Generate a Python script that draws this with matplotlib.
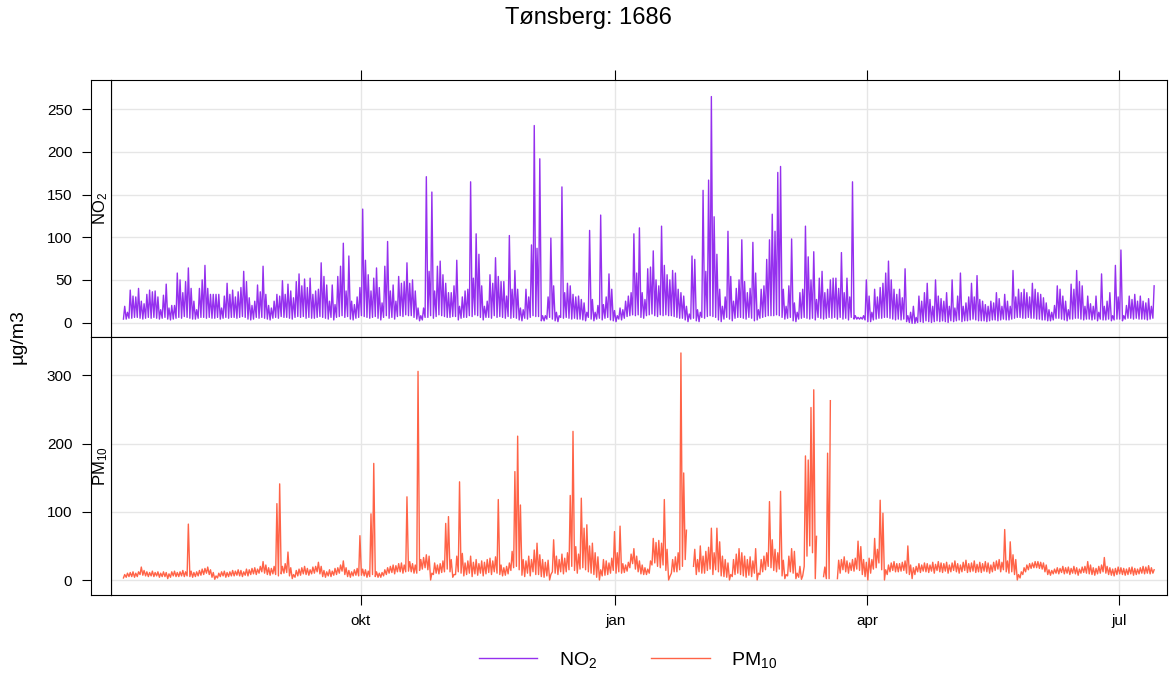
import numpy as np
import matplotlib
matplotlib.use("Agg")
import matplotlib.pyplot as plt
import matplotlib.dates as mdates
from matplotlib.lines import Line2D
from datetime import datetime

plt.rcParams['font.family'] = ['Liberation Sans', 'DejaVu Sans']
plt.rcParams['mathtext.default'] = 'regular'

nan = np.nan

# daily low / high readings (ug/m3), first day = 2019-07-07
start_date = datetime(2019, 7, 7)

no2_high = [
    19, 12, 38, 31, 30, 40, 25, 22, 33, 38,
    36, 37, 30, 15, 32, 45, 17, 20, 20, 58,
    50, 35, 48, 64, 40, 25, 15, 40, 50, 67,
    40, 33, 33, 33, 33, 17, 31, 46, 33, 38,
    30, 36, 41, 60, 48, 29, 20, 25, 44, 36,
    66, 33, 20, 17, 25, 33, 31, 49, 33, 45,
    37, 29, 48, 57, 43, 51, 41, 52, 33, 37,
    39, 70, 54, 44, 25, 44, 21, 54, 66, 93,
    37, 78, 25, 21, 30, 41, 133, 73, 56, 37,
    52, 64, 41, 23, 66, 95, 37, 44, 25, 54,
    46, 48, 70, 46, 50, 37, 17, 8, 17, 171,
    60, 153, 37, 66, 72, 56, 46, 35, 35, 43,
    73, 19, 30, 37, 39, 165, 52, 104, 80, 43,
    19, 25, 56, 46, 76, 54, 48, 48, 31, 102,
    39, 61, 39, 17, 15, 39, 30, 91, 231, 87,
    192, 8, 8, 30, 99, 43, 12, 8, 159, 35,
    46, 43, 33, 30, 31, 27, 23, 12, 108, 27,
    12, 20, 126, 21, 30, 57, 39, 14, 8, 17,
    15, 25, 31, 35, 104, 58, 111, 35, 27, 63,
    65, 84, 50, 43, 113, 67, 56, 50, 61, 58,
    39, 35, 31, 19, 10, 78, 74, 15, 12, 155,
    60, 167, 265, 124, 80, 39, 19, 30, 107, 54,
    25, 40, 50, 97, 48, 35, 40, 94, 58, 15,
    39, 43, 74, 97, 127, 107, 176, 183, 39, 19,
    43, 98, 23, 12, 35, 39, 113, 77, 50, 83,
    27, 52, 60, 35, 39, 50, 52, 52, 40, 82,
    35, 52, 30, 165, 8, 6, 6, 8, 50, 31,
    12, 39, 30, 41, 46, 58, 72, 50, 39, 33,
    39, 29, 63, 8, 12, 19, 6, 31, 25, 35,
    46, 27, 19, 50, 31, 28, 25, 35, 19, 50,
    17, 31, 58, 19, 23, 30, 46, 30, 55, 27,
    25, 21, 19, 25, 23, 35, 28, 19, 33, 25,
    19, 61, 30, 39, 35, 39, 35, 30, 46, 39,
    35, 33, 29, 23, 15, 12, 20, 43, 39, 31,
    25, 15, 45, 39, 61, 48, 43, 19, 31, 22,
    19, 31, 12, 57, 19, 25, 35, 8, 67, 30,
    85, 8, 20, 31, 27, 33, 25, 31, 25, 23,
    28, 19, 43,
]

no2_low = [
    4, 4, 5, 5, 6, 6, 5, 4, 5, 6,
    5, 6, 5, 4, 5, 6, 4, 3, 4, 5,
    6, 5, 7, 6, 5, 4, 4, 5, 6, 6,
    5, 6, 5, 5, 6, 4, 5, 6, 5, 6,
    6, 5, 6, 7, 6, 4, 3, 4, 6, 5,
    6, 5, 4, 3, 5, 6, 5, 7, 6, 6,
    5, 4, 6, 7, 6, 7, 5, 6, 5, 5,
    6, 7, 6, 5, 4, 6, 3, 6, 7, 8,
    6, 7, 4, 3, 5, 6, 8, 7, 6, 5,
    6, 7, 5, 3, 6, 8, 5, 6, 4, 7,
    8, 7, 9, 8, 8, 6, 4, 2, 3, 6,
    6, 8, 5, 7, 9, 8, 7, 6, 6, 7,
    7, 3, 5, 6, 6, 8, 7, 9, 8, 6,
    3, 6, 6, 5, 8, 6, 7, 6, 5, 7,
    5, 6, 5, 3, 2, 5, 4, 6, 8, 7,
    7, 2, 2, 4, 6, 4, 2, 1, 6, 5,
    6, 5, 4, 5, 4, 4, 3, 2, 6, 4,
    2, 4, 5, 3, 5, 6, 3, 2, 1, 4,
    3, 5, 7, 8, 9, 8, 9, 6, 5, 8,
    9, 10, 8, 7, 9, 8, 9, 8, 8, 7,
    6, 5, 5, 3, 1, 4, 5, 2, 1, 6,
    5, 7, 8, 7, 6, 3, 1, 4, 6, 4,
    2, 5, 6, 6, 5, 4, 6, 5, 2, 3,
    5, 6, 7, 8, 8, 8, 9, 8, 6, 4,
    5, 6, 2, 1, 4, 5, 6, 5, 4, 5,
    3, 6, 5, 4, 5, 6, 5, 6, 4, 6,
    4, 5, 3, 6, 4, 4, 4, 4, 3, 1,
    1, 3, 4, 5, 5, 6, 6, 5, 4, 3,
    4, 3, 4, 1, 0, -1, -1, 0, 1, 0,
    2, 1, 0, 1, 2, 1, 2, 1, 0, 2,
    1, 2, 3, 1, 2, 2, 3, 4, 3, 2,
    2, 2, 1, 2, 3, 3, 2, 3, 4, 3,
    3, 4, 5, 6, 6, 5, 5, 6, 5, 5,
    4, 4, 3, 3, 2, 2, 3, 5, 5, 4,
    3, 2, 4, 4, 5, 5, 4, 3, 4, 4,
    3, 4, 2, 4, 3, 3, 4, 2, 3, 4,
    4, 2, 4, 5, 5, 4, 5, 4, 4, 4,
    3, 4, 5,
]

pm10_high = [
    8, 10, 11, 12, 10, 12, 19, 14, 12, 11,
    13, 11, 12, 10, 12, 11, 9, 12, 13, 11,
    12, 14, 12, 82, 13, 11, 12, 14, 16, 17,
    19, 15, 11, 6, 10, 12, 13, 11, 12, 14,
    13, 15, 14, 12, 16, 15, 17, 18, 16, 20,
    27, 22, 18, 17, 20, 112, 141, 20, 24, 41,
    18, 8, 14, 16, 18, 20, 17, 15, 19, 20,
    26, 20, 14, 12, 15, 13, 17, 18, 22, 28,
    18, 14, 12, 15, 17, 65, 16, 15, 13, 97,
    171, 12, 10, 11, 15, 18, 20, 22, 21, 24,
    25, 22, 122, 27, 24, 22, 306, 30, 33, 37,
    35, 10, 25, 22, 24, 28, 83, 93, 30, 8,
    35, 144, 39, 25, 28, 35, 26, 30, 24, 28,
    26, 30, 32, 28, 34, 118, 22, 18, 20, 25,
    42, 159, 211, 110, 30, 28, 35, 30, 44, 54,
    37, 30, 26, 29, 8, 59, 35, 30, 38, 32,
    40, 124, 218, 49, 38, 120, 76, 81, 50, 54,
    40, 34, 15, 30, 28, 25, 32, 71, 40, 79,
    24, 22, 26, 38, 46, 35, 28, 22, 18, 16,
    28, 61, 55, 58, 54, 118, 45, 5, 30, 34,
    40, 333, 157, 73, nan, nan, 45, 30, 50, 35,
    42, 48, 76, 40, 76, 56, 35, 30, 25, 8,
    30, 38, 46, 40, 35, 30, 34, 28, 46, 10,
    30, 35, 40, 115, 59, 45, 40, 130, 29, 8,
    35, 46, 42, 10, 20, 6, 182, 176, 253, 279,
    64, nan, nan, 19, 186, 263, nan, nan, 29, 30,
    34, 28, 25, 30, 32, 57, 49, 30, 26, 32,
    30, 61, 45, 117, 98, 15, 22, 25, 27, 24,
    24, 26, 28, 50, 22, 18, 20, 24, 22, 25,
    24, 22, 26, 23, 27, 25, 24, 26, 22, 25,
    28, 24, 22, 26, 29, 24, 25, 28, 23, 26,
    24, 27, 25, 22, 26, 28, 30, 26, 74, 28,
    56, 37, 30, 8, 12, 18, 22, 24, 25, 27,
    27, 26, 25, 22, 15, 14, 16, 18, 17, 20,
    18, 19, 17, 20, 18, 16, 19, 20, 27, 22,
    18, 17, 20, 22, 33, 20, 18, 16, 17, 19,
    18, 17, 16, 18, 19, 17, 16, 18, 20, 19,
    21, 18, 15,
]

pm10_low = [
    3, 4, 5, 5, 4, 5, 8, 7, 6, 5,
    6, 5, 6, 4, 5, 5, 2, 4, 6, 5,
    5, 6, 5, 6, 5, 4, 5, 6, 7, 8,
    10, 8, 4, 1, 3, 5, 6, 4, 5, 6,
    6, 7, 6, 5, 7, 6, 8, 9, 8, 10,
    12, 10, 8, 7, 9, 8, 6, 9, 10, 11,
    6, 2, 4, 6, 7, 9, 8, 7, 9, 10,
    12, 9, 5, 4, 6, 5, 7, 8, 10, 13,
    8, 5, 4, 6, 7, 6, 7, 6, 4, 5,
    8, 5, 4, 4, 6, 8, 10, 11, 9, 12,
    12, 10, 12, 13, 12, 10, 10, 14, 16, 18,
    15, 0, 8, 10, 9, 11, 12, 16, 12, 4,
    8, 12, 10, 6, 8, 10, 5, 9, 7, 10,
    6, 9, 11, 8, 12, 10, 8, 6, 7, 9,
    14, 18, 20, 15, 7, 5, 10, 6, 12, 8,
    8, 5, 4, 6, 0, 12, 10, 8, 12, 9,
    12, 15, 20, 14, 10, 16, 18, 15, 12, 10,
    8, 4, 0, 6, 7, 8, 10, 14, 10, 12,
    10, 11, 13, 18, 24, 16, 12, 9, 8, 8,
    10, 22, 25, 20, 18, 22, 14, 0, 10, 12,
    12, 15, 20, 30, nan, nan, 20, 8, 12, 10,
    10, 14, 16, 8, 15, 12, 6, 5, 4, 0,
    5, 8, 10, 8, 6, 4, 7, 5, 10, 0,
    8, 12, 15, 20, 18, 14, 12, 16, 6, 2,
    6, 12, 10, 2, 4, 1, 20, 35, 50, 40,
    2, nan, nan, 5, 2, 2, nan, nan, 2, 10,
    15, 12, 10, 14, 13, 16, 14, 8, 5, 0,
    10, 16, 18, 25, 15, 0, 8, 12, 14, 12,
    12, 13, 14, 10, 8, 2, 8, 12, 11, 13,
    12, 11, 13, 10, 14, 12, 11, 13, 10, 12,
    14, 12, 10, 12, 14, 11, 12, 13, 11, 12,
    11, 13, 12, 10, 12, 14, 16, 12, 15, 12,
    10, 12, 8, 0, 3, 8, 12, 15, 17, 18,
    18, 17, 16, 12, 8, 7, 9, 10, 9, 11,
    9, 10, 8, 10, 9, 7, 10, 11, 10, 9,
    8, 7, 9, 10, 12, 10, 8, 7, 6, 8,
    9, 8, 7, 8, 9, 7, 8, 9, 10, 9,
    10, 9, 10,
]

month_ticks = [datetime(2019, 10, 1), datetime(2020, 1, 1),
               datetime(2020, 4, 1), datetime(2020, 7, 1)]
month_labels = ['okt', 'jan', 'apr', 'jul']

no2_color = '#9530EE'
pm10_color = '#FF6347'


def to_series(low, high):
    # night minimum then daytime maximum for each day
    days = np.arange(len(low))
    t = np.column_stack([days + 0.2, days + 0.65]).ravel()
    v = np.column_stack([np.array(low, float), np.array(high, float)]).ravel()
    return mdates.date2num(start_date) + t, v


W, H = 1172, 676
fig = plt.figure(figsize=(W / 100, H / 100), dpi=100)


def rect(x0, y0, x1, y1):
    return [x0 / W, 1 - y1 / H, (x1 - x0) / W, (y1 - y0) / H]


ax1 = fig.add_axes(rect(111, 80, 1167, 337))
ax2 = fig.add_axes(rect(111, 337, 1167, 595))
s1 = fig.add_axes(rect(91, 80, 111, 337), sharey=ax1)
s2 = fig.add_axes(rect(91, 337, 111, 595), sharey=ax2)

x0 = mdates.date2num(start_date)
xlim = (x0 - 4.3, x0 + 377.3)

panels = [
    (ax1, s1, no2_low, no2_high, no2_color, (-17, 284.4), [0, 50, 100, 150, 200, 250], 'NO$_2$'),
    (ax2, s2, pm10_low, pm10_high, pm10_color, (-22, 356.4), [0, 100, 200, 300], 'PM$_{10}$'),
]

for ax, strip, low, high, col, ylim, yt, lab in panels:
    t, v = to_series(low, high)
    ax.plot(t, v, color=col, lw=1.0)
    ax.set_xlim(xlim)
    ax.set_ylim(ylim)
    ax.set_yticks(yt)
    ax.set_xticks(mdates.date2num(month_ticks))
    ax.grid(True, color='#e6e6e6', lw=1)
    ax.set_axisbelow(True)
    ax.tick_params(axis='y', left=False, right=False, labelleft=False)
    for sp in ax.spines.values():
        sp.set_color('black')
        sp.set_linewidth(0.8)

    strip.set_xticks([])
    strip.tick_params(axis='y', left=True, direction='out', length=6.5,
                      width=0.8, pad=7, labelsize=11)
    for sp in strip.spines.values():
        sp.set_color('black')
        sp.set_linewidth(0.8)
    strip.text(0.5, 0.5, lab, rotation=90, ha='center', va='center',
               fontsize=12, transform=strip.transAxes)

ax1.tick_params(axis='x', bottom=False, top=True, labelbottom=False,
                labeltop=False, direction='out', length=7, width=0.8)
ax2.tick_params(axis='x', bottom=True, top=False, labelbottom=True,
                direction='out', length=7, width=0.8, pad=7, labelsize=11)
ax2.set_xticklabels(month_labels)

fig.text(588 / W, 1 - 18 / H, 'Tønsberg: 1686', ha='center', va='center', fontsize=17)
fig.text(18 / W, 1 - 337 / H, 'µg/m3', rotation=90, ha='center', va='center', fontsize=14)

handles = [Line2D([], [], color=no2_color, lw=1), Line2D([], [], color=pm10_color, lw=1)]
fig.legend(handles, ['NO$_2$', 'PM$_{10}$'], loc='center',
           bbox_to_anchor=(628 / W, 1 - 660 / H), ncol=2, frameon=False,
           fontsize=14, handlelength=3, handletextpad=1.1, columnspacing=2.8)

fig.savefig('out.png', dpi=100)
